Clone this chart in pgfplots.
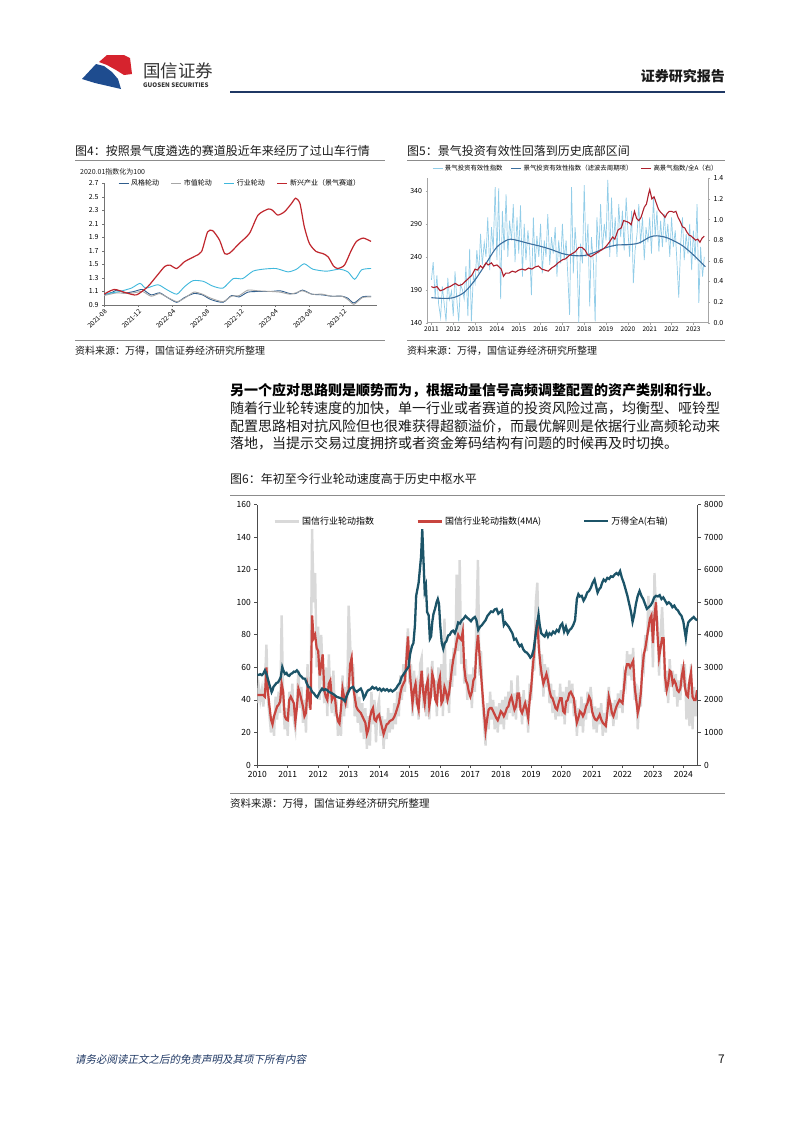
\documentclass[border=0pt]{standalone}
\usepackage{fontspec}
\setmainfont{Noto Sans CJK SC}
\newfontfamily\cjkit[FakeSlant=0.2]{Noto Sans CJK SC}
\usepackage{pgfplots}
\pgfplotsset{compat=1.18}
\usepackage{pgfplotstable}
\pgfplotsset{/pgf/number format/assume math mode=true,/pgf/number format/1000 sep={}}
\definecolor{navy}{HTML}{1F3864}
\definecolor{logoblue}{HTML}{1E4C8F}
\definecolor{logored}{HTML}{D6232E}
\definecolor{txt}{HTML}{1A1A1A}
\definecolor{rulegray}{HTML}{8C8C8C}
\definecolor{fgblue}{HTML}{2F5D8C}
\definecolor{szgray}{HTML}{A6A6A6}
\definecolor{hycyan}{HTML}{3FB8DC}
\definecolor{xxred}{HTML}{C0262D}
\definecolor{ltblue}{HTML}{92CDE8}
\definecolor{stblue}{HTML}{3A6E9E}
\definecolor{dkred}{HTML}{AE1F2C}
\definecolor{rotgray}{HTML}{D9D9D9}
\definecolor{rotred}{HTML}{C8453F}
\definecolor{windteal}{HTML}{1C5468}
\newcommand{\fs}[1]{\fontsize{#1}{#1}\selectfont}

\pgfplotstableread[row sep=\\]{
t g r\\
2010.00 38 43\\ 2010.05 48 43\\ 2010.10 40 43\\ 2010.15 46 43\\ 2010.20 36 43\\ 2010.25 50 42\\ 2010.30 74 60\\ 2010.35 40 45\\ 2010.40 30 36\\ 2010.45 20 28\\
2010.50 30 25\\ 2010.55 18 30\\ 2010.60 42 33\\ 2010.65 28 36\\ 2010.70 45 37\\ 2010.75 32 39\\ 2010.80 92 50\\ 2010.85 40 45\\ 2010.90 22 30\\ 2010.95 35 28\\
2011.00 18 27.5\\ 2011.05 45 40\\ 2011.10 30 42\\ 2011.15 50 40\\ 2011.20 28 38\\ 2011.25 22 27\\ 2011.30 40 35\\ 2011.35 58 47\\ 2011.40 35 44\\ 2011.45 48 40\\
2011.50 26 36\\ 2011.55 40 30\\ 2011.60 20 32\\ 2011.65 62 48\\ 2011.70 35 42\\ 2011.75 45 34\\ 2011.80 145 92\\ 2011.85 100 78\\ 2011.90 118 80\\ 2011.95 60 72\\
2012.00 85 70\\ 2012.05 40 55\\ 2012.10 80 62\\ 2012.15 55 68\\ 2012.20 38 46\\ 2012.25 60 42\\ 2012.30 30 40\\ 2012.35 68 50\\ 2012.40 42 52\\ 2012.45 32 40\\
2012.50 58 42\\ 2012.55 30 42\\ 2012.60 40 32\\ 2012.65 18 27\\ 2012.70 30 25.5\\ 2012.75 18 35\\ 2012.80 55 47\\ 2012.85 30 42\\ 2012.90 48 38\\ 2012.95 35 44\\
2013.00 98 46\\ 2013.05 75 62\\ 2013.10 50 66\\ 2013.15 62 48\\ 2013.20 30 42\\ 2013.25 45 36\\ 2013.30 26 34\\ 2013.35 42 33\\ 2013.40 20 32\\ 2013.45 38 30\\
2013.50 16 28\\ 2013.55 35 26\\ 2013.60 10 19\\ 2013.65 30 22\\ 2013.70 12 29\\ 2013.75 45 33\\ 2013.80 25 35\\ 2013.85 40 28\\ 2013.90 14 27\\ 2013.95 35 30\\
2014.00 40 31\\ 2014.05 18 27\\ 2014.10 30 23\\ 2014.15 10 19\\ 2014.20 28 22\\ 2014.25 16 25\\ 2014.30 35 25.5\\ 2014.35 20 27\\ 2014.40 32 27.5\\ 2014.45 22 28\\
2014.50 38 29.6\\ 2014.55 25 32\\ 2014.60 45 35\\ 2014.65 30 38\\ 2014.70 55 44\\ 2014.75 40 48\\ 2014.80 62 50\\ 2014.85 45 52\\ 2014.90 70 65\\ 2014.95 84 79\\
2015.00 50 60\\ 2015.05 62 48\\ 2015.10 30 38\\ 2015.15 58 46\\ 2015.20 42 50\\ 2015.25 48 38\\ 2015.30 28 34\\ 2015.35 62 48\\ 2015.40 66 58\\ 2015.45 35 45\\
2015.50 50 38\\ 2015.55 30 48\\ 2015.60 60 52\\ 2015.65 28 36\\ 2015.70 55 42\\ 2015.75 64 56\\ 2015.80 42 52\\ 2015.85 52 40\\ 2015.90 30 38\\ 2015.95 60 50\\
2016.00 44 54\\ 2016.05 62 38\\ 2016.10 30 40\\ 2016.15 90 48\\ 2016.20 38 45\\ 2016.25 52 40\\ 2016.30 32 44\\ 2016.35 65 52\\ 2016.40 48 60\\ 2016.45 72 66\\
2016.50 55 70\\ 2016.55 117 76\\ 2016.60 70 80\\ 2016.65 126 78\\ 2016.70 62 77\\ 2016.75 88 82\\ 2016.80 50 60\\ 2016.85 65 52\\ 2016.90 40 50\\ 2016.95 55 45\\
2017.00 55 42\\ 2017.05 35 45\\ 2017.10 60 52\\ 2017.15 45 54\\ 2017.20 90 70\\ 2017.25 126 80\\ 2017.30 55 68\\ 2017.35 70 56\\ 2017.40 40 44\\ 2017.45 25 32\\
2017.50 12 21\\ 2017.55 38 28\\ 2017.60 22 34\\ 2017.65 45 35\\ 2017.70 28 35\\ 2017.75 40 33\\ 2017.80 22 31\\ 2017.85 36 29\\ 2017.90 20 27.5\\ 2017.95 38 30\\
2018.00 25 33\\ 2018.05 40 32\\ 2018.10 22 30\\ 2018.15 42 32\\ 2018.20 28 35\\ 2018.25 45 36\\ 2018.30 32 40\\ 2018.35 52 42\\ 2018.40 30 38\\ 2018.45 44 34\\
2018.50 28 36\\ 2018.55 55 44\\ 2018.60 35 44\\ 2018.65 42 34\\ 2018.70 25 32\\ 2018.75 46 35\\ 2018.80 30 38\\ 2018.85 40 34\\ 2018.90 20 29\\ 2018.95 50 40\\
2019.00 40 48\\ 2019.05 65 60\\ 2019.10 58 70\\ 2019.15 100 82\\ 2019.20 112 89\\ 2019.25 80 72\\ 2019.30 55 62\\ 2019.35 68 55\\ 2019.40 42 50\\ 2019.45 62 53\\
2019.50 48 56\\ 2019.55 60 52\\ 2019.60 38 46\\ 2019.65 50 42\\ 2019.70 32 41\\ 2019.75 46 38\\ 2019.80 28 35\\ 2019.85 42 34\\ 2019.90 30 38\\ 2019.95 50 41\\
2020.00 30 41\\ 2020.05 45 33\\ 2020.10 25 32\\ 2020.15 48 39\\ 2020.20 32 40\\ 2020.25 52 44\\ 2020.30 38 45\\ 2020.35 50 43\\ 2020.40 30 41\\ 2020.45 40 32\\
2020.50 18 26\\ 2020.55 35 29\\ 2020.60 24 33\\ 2020.65 42 32\\ 2020.70 20 30\\ 2020.75 38 32\\ 2020.80 28 36\\ 2020.85 45 38\\ 2020.90 32 42\\ 2020.95 48 40\\
2021.00 38 33\\ 2021.05 22 30\\ 2021.10 36 28\\ 2021.15 20 27.5\\ 2021.20 35 29\\ 2021.25 25 31\\ 2021.30 38 28\\ 2021.35 18 26\\ 2021.40 32 25\\ 2021.45 20 24\\
2021.50 40 32\\ 2021.55 48 42\\ 2021.60 30 38\\ 2021.65 38 32\\ 2021.70 24 30\\ 2021.75 40 33\\ 2021.80 28 36\\ 2021.85 44 38\\ 2021.90 35 40\\ 2021.95 46 39\\
2022.00 32 38\\ 2022.05 55 48\\ 2022.10 50 58\\ 2022.15 70 62\\ 2022.20 55 62\\ 2022.25 68 60\\ 2022.30 52 62\\ 2022.35 72 64\\ 2022.40 40 48\\ 2022.45 50 40\\
2022.50 22 32\\ 2022.55 42 36\\ 2022.60 36 44\\ 2022.65 65 58\\ 2022.70 60 68\\ 2022.75 80 72\\ 2022.80 70 78\\ 2022.85 104 84\\ 2022.90 82 90\\ 2022.95 95 92\\
2023.00 60 75\\ 2023.05 118 92\\ 2023.10 95 100\\ 2023.15 88 80\\ 2023.20 55 66\\ 2023.25 80 72\\ 2023.30 97 78\\ 2023.35 75 78\\ 2023.40 45 54\\ 2023.45 58 46\\
2023.50 38 50\\ 2023.55 65 58\\ 2023.60 48 57\\ 2023.65 58 50\\ 2023.70 42 52\\ 2023.75 56 50\\ 2023.80 36 46\\ 2023.85 52 45\\ 2023.90 40 47\\ 2023.95 62 55\\
2024.00 48 60\\ 2024.05 62 48\\ 2024.10 28 43\\ 2024.15 50 42\\ 2024.20 24 52\\ 2024.25 62 57\\ 2024.30 22 42\\ 2024.35 48 40\\ 2024.40 30 40\\ 2024.45 45 46\\
}\rottable

\begin{document}
\begin{tikzpicture}
\fill[white] (0pt,0pt) rectangle (802pt,-1133pt);
\begin{scope}[x=1pt,y=-1pt]
% ---- header
\fill[logoblue] (82,79) -- (96,64) -- (104,66) -- (112,72) -- (118,79) -- (121,89) -- (108,86) -- (95,83) -- cycle;
\fill[logored] (99,62) -- (107,55) -- (124,55) -- (130,58) -- (132,74) -- (124,75) -- (116,70) -- (107,65) -- cycle;
\node[anchor=west,inner sep=0,text=black!80] at (143,70.5) {\fs{17.5}国信证券};
\node[anchor=west,inner sep=0,text=black!80] at (143,85.5) {\fs{6.2}\bfseries GUOSEN SECURITIES};
\node[anchor=east,inner sep=0,text=txt] at (725,76.5) {\fs{14}\bfseries 证券研究报告};
\draw[navy,line width=1.8pt] (230,92) -- (725,92);
% ---- fig 4 / fig 5 frame text
\node[anchor=west,inner sep=0,text=txt] at (75,151) {\fs{12}图4：按照景气度遴选的赛道股近年来经历了过山车行情};
\draw[rulegray,line width=0.8pt] (75,160) -- (385,160);
\node[anchor=west,inner sep=0,text=txt] at (80,172) {\fs{7}2020.01指数化为100};
\draw[rulegray,line width=0.8pt] (75,340) -- (385,340);
\node[anchor=west,inner sep=0,text=txt] at (75,351) {\fs{10}资料来源：万得，国信证券经济研究所整理};
\node[anchor=west,inner sep=0,text=txt] at (407,151) {\fs{12}图5：景气投资有效性回落到历史底部区间};
\draw[rulegray,line width=0.8pt] (407,160) -- (725,160);
\draw[rulegray,line width=0.8pt] (407,340) -- (725,340);
\node[anchor=west,inner sep=0,text=txt] at (407,351) {\fs{10}资料来源：万得，国信证券经济研究所整理};
% ---- body text
\node[anchor=west,inner sep=0,text=black] at (230,390) {\fs{14}\bfseries 另一个应对思路则是顺势而为，根据动量信号高频调整配置的资产类别和行业。};
\node[anchor=west,inner sep=0,text=txt] at (230,408.3) {\fs{14}随着行业轮转速度的加快，单一行业或者赛道的投资风险过高，均衡型、哑铃型};
\node[anchor=west,inner sep=0,text=txt] at (230,425.8) {\fs{14}配置思路相对抗风险但也很难获得超额溢价，而最优解则是依据行业高频轮动来};
\node[anchor=west,inner sep=0,text=txt] at (230,443.3) {\fs{14}落地，当提示交易过度拥挤或者资金筹码结构有问题的时候再及时切换。};
% ---- fig 6 frame text
\node[anchor=west,inner sep=0,text=txt] at (230,478.7) {\fs{12}图6：年初至今行业轮动速度高于历史中枢水平};
\draw[rulegray,line width=0.8pt] (230,495.3) -- (725,495.3);
\draw[rulegray,line width=0.8pt] (230,793.3) -- (725,793.3);
\node[anchor=west,inner sep=0,text=txt] at (230,804) {\fs{10.5}资料来源：万得，国信证券经济研究所整理};
% ---- footer
\node[anchor=west,inner sep=0,text=navy] at (75,1059) {\fs{10.5}\cjkit 请务必阅读正文之后的免责声明及其项下所有内容};
\node[anchor=east,inner sep=0,text=txt] at (725,1059) {\fs{12}7};
\end{scope}

% ================= Figure 4
\begin{axis}[
  at={(104pt,-305pt)}, anchor=south west, scale only axis,
  width=273pt, height=121.7pt,
  xmin=0, xmax=31.9, ymin=0.9, ymax=2.7,
  axis x line*=bottom, axis y line*=left,
  axis line style={draw=black!55, line width=0.6pt, -},
  tick align=outside, major tick length=2pt,
  tick style={draw=black!55, line width=0.5pt},
  ytick={0.9,1.1,1.3,1.5,1.7,1.9,2.1,2.3,2.5,2.7},
  yticklabel style={/pgf/number format/.cd, fixed, fixed zerofill, precision=1, /tikz/.cd, font=\fs{7}},
  xtick={0,4,8,12,16,20,24,28},
  xticklabels={2021-08,2021-12,2022-04,2022-08,2022-12,2023-04,2023-08,2023-12},
  xticklabel style={rotate=45, anchor=north east, font=\fs{6.5}, inner sep=1pt},
  legend columns=4,
  legend image code/.code={\draw[#1] (0pt,0pt) -- (10pt,0pt);},
  legend style={at={(0.051,1)}, anchor=west, draw=none, fill=none, font=\fs{7}, inner sep=0pt,
    /tikz/every even column/.append style={column sep=10pt}},
]
\addplot[fgblue, line width=0.9pt, smooth, tension=0.4] coordinates {
(0,1.05) (1,1.09) (1.5,1.12) (2.5,1.08) (3.5,1.10) (4.5,1.13) (5.5,1.05) (6.5,1.08) (7.3,1.02) (8.5,0.94) (9.4,1.01) (10.5,1.07) (11.5,1.05) (12.5,0.98) (13.9,0.94) (14.9,1.04) (15.8,1.02) (16.8,1.09) (18,1.10) (19.5,1.10) (20.6,1.11) (21.7,1.07) (22.4,1.07) (23.2,1.12) (24.3,1.06) (25.5,1.05) (26.6,1.03) (27.8,1.03) (28.5,1.00) (29.2,0.93) (30.2,1.02) (31.2,1.03)};
\addlegendentry{风格轮动}
\addplot[szgray, line width=0.9pt, smooth, tension=0.4] coordinates {
(0,1.04) (1.5,1.08) (2.5,1.07) (3.5,1.08) (4.5,1.10) (5.5,1.03) (6.5,1.07) (7.3,1.02) (8.5,0.95) (9.4,1.00) (10.5,1.09) (11.5,1.06) (12.5,1.00) (13.9,0.95) (14.9,1.03) (15.8,1.04) (16.8,1.12) (18,1.11) (19.5,1.10) (20.6,1.09) (21.7,1.06) (22.4,1.08) (23.2,1.11) (24.3,1.06) (25.5,1.06) (26.6,1.03) (27.8,1.03) (28.5,0.98) (29.2,0.91) (30.2,1.01) (31.2,1.02)};
\addlegendentry{市值轮动}
\addplot[hycyan, line width=0.9pt, smooth, tension=0.4] coordinates {
(0,1.06) (1.8,1.10) (3.2,1.15) (4.2,1.22) (4.9,1.15) (6.3,1.20) (7.3,1.13) (8.5,1.06) (9.4,1.17) (10.4,1.26) (11.6,1.25) (12.7,1.18) (13.9,1.15) (15.1,1.29) (16.2,1.29) (17.4,1.40) (18.6,1.43) (20.1,1.44) (21.5,1.39) (22.5,1.43) (23.4,1.51) (24.4,1.43) (26.0,1.40) (27.5,1.43) (28.5,1.39) (29.3,1.28) (30.1,1.42) (31.2,1.44)};
\addlegendentry{行业轮动}
\addplot[xxred, line width=1.2pt, smooth, tension=0.4] coordinates {
(0,1.06) (1.2,1.13) (2.6,1.08) (3.8,1.05) (5.1,1.17) (6.1,1.32) (7.1,1.47) (7.7,1.49) (8.5,1.44) (9.4,1.54) (10.6,1.62) (11.4,1.69) (12.1,1.98) (12.7,2.00) (13.5,1.86) (14.1,1.66) (14.7,1.67) (15.8,1.81) (17.0,1.96) (18.0,2.23) (19.2,2.32) (19.7,2.30) (20.3,2.23) (21.1,2.28) (21.9,2.40) (22.4,2.48) (22.9,2.40) (23.4,2.06) (24.0,1.81) (24.8,1.69) (25.6,1.66) (26.2,1.61) (26.8,1.48) (27.3,1.44) (28.1,1.49) (28.9,1.71) (29.5,1.84) (30.3,1.89) (31.2,1.84)};
\addlegendentry{新兴产业（景气赛道）}
\end{axis}

% ================= Figure 5 (left axis)
\begin{axis}[
  at={(427.5pt,-322.7pt)}, anchor=south west, scale only axis,
  width=280.5pt, height=144.4pt,
  xmin=2010.82, xmax=2023.67, ymin=140, ymax=359.3,
  axis x line*=bottom, axis y line*=left,
  axis line style={draw=black!35, line width=0.5pt, -},
  tick align=outside, major tick length=2pt, tick style={draw=black!35},
  ytick={140,190,240,290,340},
  xtick={2011,2012,2013,2014,2015,2016,2017,2018,2019,2020,2021,2022,2023},
  xticklabel style={font=\fs{6.5}, inner sep=1.5pt},
  yticklabel style={font=\fs{7}},
]
\addplot[ltblue, line width=0.7pt] coordinates {
(2011.00,205) (2011.08,232) (2011.17,178) (2011.25,212) (2011.33,168) (2011.42,148) (2011.50,195) (2011.58,170) (2011.67,142) (2011.75,208) (2011.83,175) (2011.92,188)
(2012.00,150) (2012.08,218) (2012.17,172) (2012.25,142) (2012.33,198) (2012.42,190) (2012.50,176) (2012.58,226) (2012.67,150) (2012.75,252) (2012.83,142) (2012.92,212)
(2013.00,200) (2013.08,250) (2013.17,215) (2013.25,275) (2013.33,228) (2013.42,262) (2013.50,240) (2013.58,300) (2013.67,220) (2013.75,285) (2013.83,250) (2013.92,346)
(2014.00,235) (2014.08,344) (2014.17,176) (2014.25,310) (2014.33,250) (2014.42,335) (2014.50,240) (2014.58,295) (2014.67,265) (2014.75,320) (2014.83,232) (2014.92,300)
(2015.00,245) (2015.08,318) (2015.17,210) (2015.25,290) (2015.33,235) (2015.42,280) (2015.50,250) (2015.58,182) (2015.67,300) (2015.75,225) (2015.83,272) (2015.92,240)
(2016.00,290) (2016.08,215) (2016.17,265) (2016.25,240) (2016.33,305) (2016.42,228) (2016.50,270) (2016.58,245) (2016.67,285) (2016.75,210) (2016.83,265) (2016.92,230)
(2017.00,290) (2017.08,235) (2017.17,265) (2017.25,210) (2017.33,152) (2017.42,346) (2017.50,215) (2017.58,285) (2017.67,240) (2017.75,140) (2017.83,260) (2017.92,230)
(2018.00,349) (2018.08,240) (2018.17,290) (2018.25,165) (2018.33,270) (2018.42,230) (2018.50,142) (2018.58,300) (2018.67,245) (2018.75,320) (2018.83,250) (2018.92,290)
(2019.00,265) (2019.08,357) (2019.17,240) (2019.25,330) (2019.33,255) (2019.42,300) (2019.50,240) (2019.58,320) (2019.67,270) (2019.75,310) (2019.83,250) (2019.92,330)
(2020.00,280) (2020.08,240) (2020.17,310) (2020.25,200) (2020.33,250) (2020.42,275) (2020.50,320) (2020.58,260) (2020.67,300) (2020.75,235) (2020.83,285) (2020.92,262)
(2021.00,300) (2021.08,245) (2021.17,330) (2021.25,270) (2021.33,310) (2021.42,248) (2021.50,295) (2021.58,255) (2021.67,305) (2021.75,262) (2021.83,290) (2021.92,240)
(2022.00,300) (2022.08,255) (2022.17,280) (2022.25,230) (2022.33,178) (2022.42,260) (2022.50,300) (2022.58,235) (2022.67,275) (2022.75,245) (2022.83,290) (2022.92,220)
(2023.00,280) (2023.08,235) (2023.17,320) (2023.25,170) (2023.33,255) (2023.42,210) (2023.50,240)};
\addplot[stblue, line width=1.1pt, smooth] coordinates {
(2011.0,178) (2011.5,177) (2012.0,178) (2012.5,186) (2013.0,205) (2013.5,230) (2014.0,255) (2014.5,266) (2014.8,266) (2015.5,260) (2016.0,256) (2016.5,251) (2017.0,245) (2017.5,242) (2018.0,242) (2018.5,247) (2019.0,254) (2019.5,258) (2020.0,258.5) (2020.5,261) (2021.0,270) (2021.3,272) (2021.7,270) (2022.0,266) (2022.5,257) (2023.0,243) (2023.55,225)};
\end{axis}
% ================= Figure 5 (right axis)
\begin{axis}[
  at={(427.5pt,-322.7pt)}, anchor=south west, scale only axis,
  width=280.5pt, height=144.4pt,
  xmin=2010.82, xmax=2023.67, ymin=0, ymax=1.4,
  axis x line=none, axis y line*=right,
  axis line style={draw=black!35, line width=0.5pt, -},
  tick align=outside, major tick length=2pt, tick style={draw=black!35},
  ytick={0,0.2,0.4,0.6,0.8,1.0,1.2,1.4},
  yticklabel style={/pgf/number format/.cd, fixed, fixed zerofill, precision=1, /tikz/.cd, font=\fs{7}},
  legend columns=3,
  legend image code/.code={\draw[#1] (0pt,0pt) -- (10pt,0pt);},
  legend style={at={(0.016,1.069)}, anchor=west, draw=none, fill=none, font=\fs{6.4}, inner sep=0pt,
    /tikz/every even column/.append style={column sep=6pt}},
]
\addlegendimage{ltblue, line width=0.8pt}
\addlegendentry{景气投资有效性指数}
\addlegendimage{stblue, line width=1.1pt}
\addlegendentry{景气投资有效性指数（滤波去周期项）}
\addplot[dkred, line width=1.1pt] coordinates {
(2011.00,0.35) (2011.10,0.34) (2011.25,0.35) (2011.40,0.31) (2011.55,0.32) (2011.70,0.34) (2011.85,0.35) (2012.00,0.37) (2012.10,0.38) (2012.25,0.36) (2012.40,0.37) (2012.55,0.40) (2012.70,0.43) (2012.85,0.46)
(2013.00,0.52) (2013.10,0.51) (2013.25,0.55) (2013.35,0.53) (2013.50,0.58) (2013.60,0.56) (2013.75,0.58) (2013.85,0.55) (2014.00,0.56) (2014.10,0.54) (2014.20,0.52) (2014.30,0.45) (2014.40,0.48) (2014.55,0.48) (2014.70,0.50) (2014.85,0.49)
(2015.00,0.51) (2015.15,0.52) (2015.30,0.51) (2015.45,0.53) (2015.60,0.52) (2015.75,0.54) (2015.90,0.55) (2016.05,0.52) (2016.20,0.51) (2016.35,0.50) (2016.50,0.53) (2016.65,0.55) (2016.80,0.58)
(2017.00,0.61) (2017.15,0.62) (2017.30,0.65) (2017.45,0.67) (2017.60,0.69) (2017.75,0.73) (2017.90,0.73) (2018.05,0.70) (2018.15,0.66) (2018.30,0.64) (2018.45,0.66) (2018.60,0.68) (2018.75,0.70) (2018.90,0.72)
(2019.00,0.74) (2019.15,0.78) (2019.30,0.83) (2019.40,0.81) (2019.55,0.90) (2019.70,0.92) (2019.80,0.99) (2019.95,0.98) (2020.05,0.97) (2020.15,0.95) (2020.30,1.08) (2020.40,1.01) (2020.50,0.99) (2020.60,1.02) (2020.75,1.12) (2020.85,1.15) (2020.95,1.25)
(2021.00,1.29) (2021.10,1.20) (2021.20,1.22) (2021.30,1.16) (2021.40,1.10) (2021.50,1.07) (2021.60,1.05) (2021.70,1.02) (2021.80,1.06) (2021.90,1.08) (2022.00,1.08) (2022.10,1.07) (2022.20,1.08) (2022.30,1.02) (2022.40,0.98) (2022.50,0.93) (2022.60,0.92) (2022.70,0.88) (2022.80,0.85) (2022.90,0.84)
(2023.00,0.82) (2023.10,0.80) (2023.20,0.81) (2023.30,0.78) (2023.40,0.82) (2023.50,0.84)};
\addlegendentry{高景气指数/全A（右）}
\end{axis}

% ================= Figure 6 (left axis)
\begin{axis}[
  at={(257.3pt,-765pt)}, anchor=south west, scale only axis,
  width=440.4pt, height=260.3pt,
  xmin=2010, xmax=2024.47, ymin=0, ymax=160,
  axis x line*=bottom, axis y line*=left,
  axis line style={draw=black!70, line width=0.9pt, -},
  tick align=outside, major tick length=3pt, tick style={draw=black!70, line width=0.8pt},
  ytick={0,20,40,60,80,100,120,140,160},
  xtick={2010,2011,2012,2013,2014,2015,2016,2017,2018,2019,2020,2021,2022,2023,2024},
  xticklabel style={font=\fs{8.5}},
  yticklabel style={font=\fs{8.5}},
]
\addplot[rotgray, line width=2.4pt] table[x=t,y=g] {\rottable};
\addplot[rotred, line width=2.2pt] table[x=t,y=r] {\rottable};
\end{axis}
% ================= Figure 6 (right axis)
\begin{axis}[
  at={(257.3pt,-765pt)}, anchor=south west, scale only axis,
  width=440.4pt, height=260.3pt,
  xmin=2010, xmax=2024.47, ymin=0, ymax=8000,
  axis x line=none, axis y line*=right,
  axis line style={draw=black!70, line width=0.9pt, -},
  tick align=outside, major tick length=3pt, tick style={draw=black!70, line width=0.8pt},
  ytick={0,1000,2000,3000,4000,5000,6000,7000,8000},
  yticklabel style={font=\fs{8.5}},
  legend columns=3,
  legend image code/.code={\draw[#1] (0pt,0pt) -- (24pt,0pt);},
  legend style={at={(0.0357,0.937)}, anchor=west, draw=none, fill=none, font=\fs{9}, inner sep=0pt,
    /tikz/every even column/.append style={column sep=40pt}},
]
\addlegendimage{rotgray, line width=3pt}
\addlegendentry{国信行业轮动指数}
\addlegendimage{rotred, line width=3pt}
\addlegendentry{国信行业轮动指数(4MA)}
\addplot[windteal, line width=2.3pt] coordinates {
(2010.00,2780) (2010.05,2770) (2010.10,2790) (2010.15,2760) (2010.20,2810) (2010.25,2910) (2010.30,2800) (2010.36,2600) (2010.42,2400) (2010.47,2240) (2010.50,2300) (2010.53,2400) (2010.58,2460) (2010.63,2520) (2010.68,2540) (2010.72,2600) (2010.77,2700) (2010.82,3010) (2010.86,2900) (2010.91,2800) (2010.96,2830)
(2011.00,2760) (2011.05,2740) (2011.10,2800) (2011.15,2820) (2011.20,2870) (2011.25,2860) (2011.30,2910) (2011.35,2850) (2011.40,2760) (2011.45,2720) (2011.50,2660) (2011.57,2650) (2011.62,2520) (2011.68,2400) (2011.74,2380) (2011.80,2250) (2011.86,2200) (2011.92,2120) (2011.97,2080)
(2012.03,2200) (2012.08,2280) (2012.13,2350) (2012.18,2300) (2012.24,2330) (2012.30,2300) (2012.36,2240) (2012.42,2220) (2012.48,2190) (2012.54,2150) (2012.60,2100) (2012.66,2080) (2012.72,2060) (2012.78,2040) (2012.84,2000) (2012.88,1960) (2012.93,2100)
(2013.00,2250) (2013.05,2350) (2013.10,2380) (2013.15,2400) (2013.20,2300) (2013.27,2250) (2013.33,2300) (2013.40,2350) (2013.45,2250) (2013.50,2050) (2013.55,2130) (2013.60,2250) (2013.65,2300) (2013.72,2330) (2013.78,2400) (2013.84,2350) (2013.90,2380) (2013.96,2310)
(2014.02,2350) (2014.08,2280) (2014.14,2340) (2014.20,2290) (2014.26,2330) (2014.32,2270) (2014.38,2310) (2014.44,2260) (2014.50,2300) (2014.56,2350) (2014.62,2450) (2014.68,2520) (2014.74,2700) (2014.80,2780) (2014.86,2870) (2014.92,2950) (2014.97,3020)
(2015.02,3400) (2015.08,3650) (2015.13,3750) (2015.18,4300) (2015.22,5200) (2015.26,5400) (2015.30,5600) (2015.34,6000) (2015.38,6400) (2015.42,7250) (2015.46,6300) (2015.50,5350) (2015.54,5500) (2015.58,4700) (2015.63,4600) (2015.67,3880) (2015.71,3950) (2015.75,4400) (2015.79,4650) (2015.84,4800) (2015.89,5000) (2015.93,5100) (2015.97,4950)
(2016.01,4300) (2016.06,3750) (2016.11,3570) (2016.16,3750) (2016.21,3800) (2016.27,3980) (2016.32,4000) (2016.38,4100) (2016.43,4130) (2016.49,4050) (2016.55,4200) (2016.60,4380) (2016.66,4350) (2016.72,4450) (2016.78,4500) (2016.84,4580) (2016.90,4520) (2016.96,4480)
(2017.02,4420) (2017.08,4500) (2017.15,4550) (2017.20,4450) (2017.26,4150) (2017.32,4250) (2017.38,4300) (2017.44,4380) (2017.50,4450) (2017.56,4580) (2017.62,4650) (2017.68,4720) (2017.74,4700) (2017.80,4780) (2017.86,4800) (2017.92,4650) (2017.98,4700)
(2018.04,4750) (2018.10,4300) (2018.15,4380) (2018.20,4320) (2018.26,4250) (2018.32,4150) (2018.38,4050) (2018.44,3850) (2018.50,3880) (2018.56,3750) (2018.62,3650) (2018.68,3700) (2018.74,3550) (2018.80,3480) (2018.86,3450) (2018.92,3380) (2018.97,3300)
(2019.02,3350) (2019.08,3550) (2019.13,3900) (2019.18,4250) (2019.24,4620) (2019.28,4300) (2019.33,4050) (2019.38,4000) (2019.44,3950) (2019.50,4080) (2019.55,3950) (2019.60,4050) (2019.66,4000) (2019.72,4100) (2019.78,4050) (2019.84,4150) (2019.90,4100) (2019.96,4280)
(2020.02,4350) (2020.08,4100) (2020.14,4250) (2020.20,4050) (2020.26,4150) (2020.32,4200) (2020.38,4300) (2020.44,4450) (2020.50,5100) (2020.55,5250) (2020.60,5180) (2020.66,5200) (2020.72,5050) (2020.78,5150) (2020.84,5300) (2020.90,5350) (2020.96,5450)
(2021.02,5600) (2021.08,5700) (2021.13,5500) (2021.18,5300) (2021.23,5400) (2021.28,5450) (2021.33,5600) (2021.38,5700) (2021.44,5650) (2021.50,5750) (2021.56,5720) (2021.62,5800) (2021.68,5780) (2021.74,5850) (2021.80,5900) (2021.86,5850) (2021.92,5960) (2021.98,5750)
(2022.04,5600) (2022.10,5400) (2022.16,5200) (2022.22,4950) (2022.28,4700) (2022.33,4400) (2022.38,4600) (2022.44,4950) (2022.50,5200) (2022.56,5350) (2022.62,5200) (2022.68,5100) (2022.74,4950) (2022.80,4800) (2022.86,4850) (2022.92,4900) (2022.98,5000)
(2023.04,5150) (2023.10,5200) (2023.16,5180) (2023.22,5220) (2023.28,5100) (2023.34,5150) (2023.40,5050) (2023.46,4950) (2023.52,5000) (2023.58,4950) (2023.64,4850) (2023.70,4900) (2023.76,4800) (2023.82,4750) (2023.88,4650) (2023.94,4580)
(2024.00,4400) (2024.04,4150) (2024.08,3900) (2024.12,4200) (2024.16,4380) (2024.22,4450) (2024.28,4500) (2024.34,4550) (2024.40,4480) (2024.45,4450)};
\addlegendentry{万得全A(右轴)}
\end{axis}
\end{tikzpicture}
\end{document}
